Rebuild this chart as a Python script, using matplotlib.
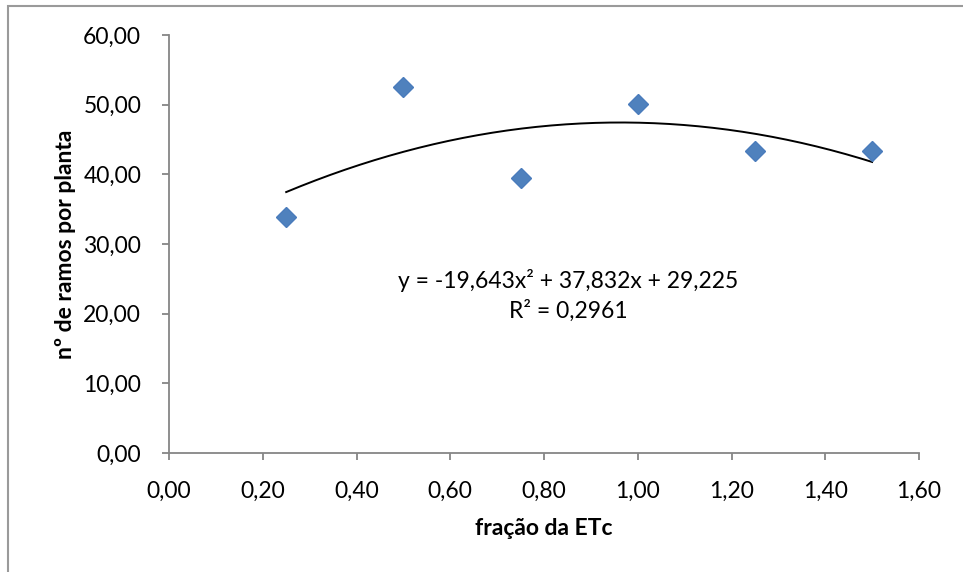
import matplotlib.pyplot as plt
import matplotlib.patches as mpatches
import numpy as np
from matplotlib.ticker import FuncFormatter

plt.rcParams['font.family'] = ['Lato', 'DejaVu Sans']

# dados
fracao = [0.25, 0.50, 0.75, 1.00, 1.25, 1.50]
ramos = [33.9, 52.5, 39.5, 50.1, 43.3, 43.3]
coef = [-19.643, 37.832, 29.225]   # linha de tendência polinomial
eq_text = 'y = -19,643x² + 37,832x + 29,225'
r2_text = 'R² = 0,2961'

fs = 16.5

fig = plt.figure(figsize=(9.63, 5.72), dpi=100)
ax = fig.add_axes([169/963, 1-453/572, 750/963, 418/572])

# moldura externa
fig.patches.append(mpatches.Rectangle((8/963, -0.1), 1.2, (566/572)+0.1, transform=fig.transFigure,
                                      fill=False, edgecolor='#9a9a9a', linewidth=1.5))

xs = np.linspace(fracao[0], fracao[-1], 200)
ax.plot(xs, np.polyval(coef, xs), color='black', linewidth=1.4, zorder=2)
ax.plot(fracao, ramos, linestyle='none', marker='D', markersize=10,
        color='#4f81bd', markeredgecolor='#4a7cbc', zorder=3)

ax.set_xlim(0, 1.6)
ax.set_ylim(0, 60)
ax.set_xticks(np.arange(0, 1.61, 0.2))
ax.set_yticks(np.arange(0, 61, 10))
ax.xaxis.set_major_formatter(FuncFormatter(lambda v, p: f'{v:.2f}'.replace('.', ',')))
ax.yaxis.set_major_formatter(FuncFormatter(lambda v, p: f'{v:.2f}'.replace('.', ',')))

for s in ['top', 'right']:
    ax.spines[s].set_visible(False)
for s in ['left', 'bottom']:
    ax.spines[s].set_color('#868686')
    ax.spines[s].set_linewidth(1.3)
ax.tick_params(direction='out', length=5, width=1.3, color='#868686',
               labelsize=fs, labelcolor='black')
ax.tick_params(axis='y', pad=15)
ax.tick_params(axis='x', pad=15)

ax.set_xlabel('fração da ETc', fontsize=fs, fontweight='bold', labelpad=12)
ax.set_ylabel('nº de ramos por planta', fontsize=fs, fontweight='bold', labelpad=5)

ax.text(0.851, 24.7, eq_text, ha='center', va='center', fontsize=fs)
ax.text(0.851, 20.4, r2_text, ha='center', va='center', fontsize=fs)

fig.savefig('out.png', dpi=100)
